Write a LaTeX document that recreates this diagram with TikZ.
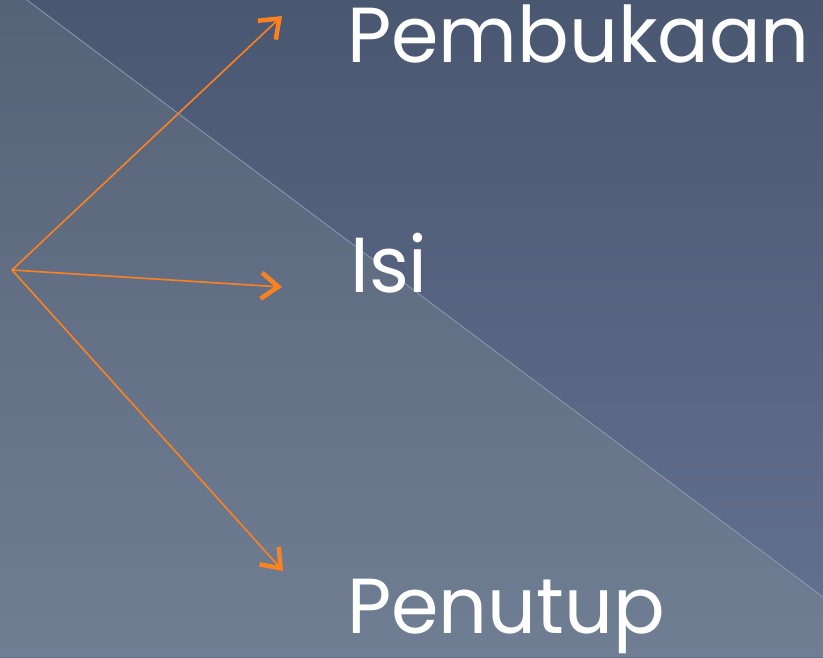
\documentclass[tikz,border=0pt]{standalone}
\usepackage{fontspec}
\setmainfont{Poppins}
\usetikzlibrary{arrows.meta}
\definecolor{bgTopR}{RGB}{73,87,113}
\definecolor{bgBotR}{RGB}{100,114,146}
\definecolor{bgTopL}{RGB}{86,98,118}
\definecolor{bgBotL}{RGB}{112,126,148}
\definecolor{diagline}{RGB}{140,154,180}
\definecolor{arroworange}{RGB}{252,130,32}
\newcommand{\narrowtext}[1]{\scalebox{0.98}[1]{#1}}
\tikzset{
  conn/.style={draw=arroworange, line width=1.6pt,
    -{Straight Barb[length=17pt,width=26pt,line width=4.5pt]}},
  lbl/.style={anchor=base west, inner sep=0pt, text=white,
    font=\fontsize{78}{78}\selectfont}
}
\begin{document}
\begin{tikzpicture}[x=1pt,y=-1pt]
\useasboundingbox (0,0) rectangle (823,657);
\shade[top color=bgTopR, bottom color=bgBotR] (0,0) rectangle (823,657);
\shade[top color=bgTopL, bottom color=bgBotL] (0,0) -- (27,0) -- (823,597) -- (823,657) -- (0,657) -- cycle;
\draw[diagline, line width=0.8pt] (27,0) -- (823,597);
\coordinate (o) at (12,270);
\coordinate (t1) at (282,16);
\coordinate (t2) at (282,287);
\coordinate (t3) at (283,571);
\node[lbl] (pem) at (347,62) {\narrowtext{Pembukaan}};
\node[lbl] (isi) at (350,292) {\narrowtext{Isi}};
\node[lbl] (pen) at (347,633) {\narrowtext{Penutup}};
\draw[conn] (o) -- (t1);
\draw[conn] (o) -- (t2);
\draw[conn] (o) -- (t3);
\end{tikzpicture}
\end{document}
